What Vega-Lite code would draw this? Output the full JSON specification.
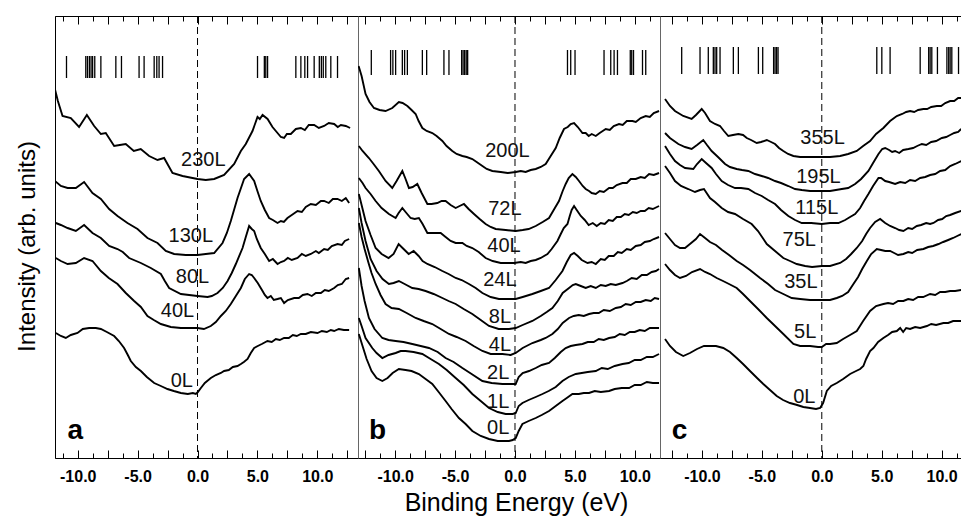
{
"$schema": "https://vega.github.io/schema/vega-lite/v6.json",
"background": "white",
"padding": {"left": 14, "top": 15, "right": 0, "bottom": 0},
"bounds": "flush",
"spacing": 0,
"config": {
 "view": {"stroke": "#666", "strokeWidth": 1},
 "axis": {"domainColor": "black", "tickColor": "black", "grid": false, "tickWidth": 1, "domainWidth": 1,
  "labelFont": "Liberation Sans Narrow, Arial Narrow, Liberation Sans, sans-serif", "labelFontSize": 16, "labelFontWeight": "bold", "labelColor": "black",
  "labelPadding": 18, "labelFlush": false, "labelOverlap": false,
  "titleFont": "Liberation Sans", "titleFontWeight": "normal", "titleColor": "black"}
},
"datasets": {
 "letters": [
  {"p": "a", "t": "a", "x": -10.85, "y": 19},
  {"p": "b", "t": "b", "x": -12.19, "y": 19},
  {"p": "c", "t": "c", "x": -12.52, "y": 19}
 ],
 "labels": [
  {"p": "a", "t": "230L", "x": 0.48, "y": 292},
  {"p": "a", "t": "130L", "x": -0.56, "y": 216},
  {"p": "a", "t": "80L", "x": -0.42, "y": 175},
  {"p": "a", "t": "40L", "x": -1.67, "y": 141},
  {"p": "a", "t": "0L", "x": -1.31, "y": 71},
  {"p": "b", "t": "200L", "x": -0.63, "y": 301},
  {"p": "b", "t": "72L", "x": -0.84, "y": 243},
  {"p": "b", "t": "40L", "x": -0.92, "y": 206},
  {"p": "b", "t": "24L", "x": -1.26, "y": 172},
  {"p": "b", "t": "8L", "x": -1.26, "y": 135},
  {"p": "b", "t": "4L", "x": -1.26, "y": 107},
  {"p": "b", "t": "2L", "x": -1.4, "y": 79},
  {"p": "b", "t": "1L", "x": -1.4, "y": 50},
  {"p": "b", "t": "0L", "x": -1.4, "y": 24},
  {"p": "c", "t": "355L", "x": 0.07, "y": 314},
  {"p": "c", "t": "195L", "x": -0.28, "y": 275},
  {"p": "c", "t": "115L", "x": -0.42, "y": 244},
  {"p": "c", "t": "75L", "x": -1.88, "y": 212},
  {"p": "c", "t": "35L", "x": -1.74, "y": 170},
  {"p": "c", "t": "5L", "x": -1.39, "y": 120},
  {"p": "c", "t": "0L", "x": -1.46, "y": 55}
 ],
 "bars": [
  {"p":"a","x":-10.94,"y":402,"y2":380},{"p":"a","x":-9.33,"y":402,"y2":380},{"p":"a","x":-9.19,"y":402,"y2":380},{"p":"a","x":-9.03,"y":402,"y2":380},{"p":"a","x":-8.89,"y":402,"y2":380},{"p":"a","x":-8.76,"y":402,"y2":380},{"p":"a","x":-8.58,"y":402,"y2":380},{"p":"a","x":-8.07,"y":402,"y2":380},{"p":"a","x":-6.82,"y":402,"y2":380},{"p":"a","x":-6.35,"y":402,"y2":380},{"p":"a","x":-4.88,"y":402,"y2":380},{"p":"a","x":-4.46,"y":402,"y2":380},{"p":"a","x":-3.62,"y":402,"y2":380},{"p":"a","x":-3.4,"y":402,"y2":380},{"p":"a","x":-3.21,"y":402,"y2":380},{"p":"a","x":-2.92,"y":402,"y2":380},
  {"p":"a","x":5.01,"y":402,"y2":380},{"p":"a","x":5.58,"y":402,"y2":380},{"p":"a","x":5.7,"y":402,"y2":380},{"p":"a","x":5.85,"y":402,"y2":380},{"p":"a","x":8.21,"y":402,"y2":380},{"p":"a","x":8.63,"y":402,"y2":380},{"p":"a","x":8.96,"y":402,"y2":380},{"p":"a","x":9.19,"y":402,"y2":380},{"p":"a","x":9.74,"y":402,"y2":380},{"p":"a","x":10.17,"y":402,"y2":380},{"p":"a","x":10.34,"y":402,"y2":380},{"p":"a","x":10.5,"y":402,"y2":380},{"p":"a","x":10.71,"y":402,"y2":380},{"p":"a","x":11.13,"y":402,"y2":380},{"p":"a","x":11.69,"y":402,"y2":380},
  {"p":"b","x":-11.99,"y":408,"y2":383},{"p":"b","x":-10.38,"y":408,"y2":383},{"p":"b","x":-10.19,"y":408,"y2":383},{"p":"b","x":-9.96,"y":408,"y2":383},{"p":"b","x":-9.4,"y":408,"y2":383},{"p":"b","x":-9.21,"y":408,"y2":383},{"p":"b","x":-8.98,"y":408,"y2":383},{"p":"b","x":-7.73,"y":408,"y2":383},{"p":"b","x":-7.37,"y":408,"y2":383},{"p":"b","x":-5.93,"y":408,"y2":383},{"p":"b","x":-5.51,"y":408,"y2":383},{"p":"b","x":-4.45,"y":408,"y2":383},{"p":"b","x":-4.33,"y":408,"y2":383},{"p":"b","x":-4.2,"y":408,"y2":383},{"p":"b","x":-4.07,"y":408,"y2":383},{"p":"b","x":-3.95,"y":408,"y2":383},
  {"p":"b","x":4.38,"y":408,"y2":383},{"p":"b","x":4.65,"y":408,"y2":383},{"p":"b","x":5.01,"y":408,"y2":383},{"p":"b","x":7.43,"y":408,"y2":383},{"p":"b","x":7.99,"y":408,"y2":383},{"p":"b","x":8.27,"y":408,"y2":383},{"p":"b","x":8.55,"y":408,"y2":383},{"p":"b","x":9.62,"y":408,"y2":383},{"p":"b","x":9.74,"y":408,"y2":383},{"p":"b","x":9.89,"y":408,"y2":383},{"p":"b","x":10.64,"y":408,"y2":383},{"p":"b","x":10.91,"y":408,"y2":383},
  {"p":"c","x":-11.69,"y":411,"y2":384},{"p":"c","x":-10.16,"y":411,"y2":384},{"p":"c","x":-9.47,"y":411,"y2":384},{"p":"c","x":-9.05,"y":411,"y2":384},{"p":"c","x":-8.91,"y":411,"y2":384},{"p":"c","x":-8.77,"y":411,"y2":384},{"p":"c","x":-8.49,"y":411,"y2":384},{"p":"c","x":-7.38,"y":411,"y2":384},{"p":"c","x":-6.96,"y":411,"y2":384},{"p":"c","x":-5.29,"y":411,"y2":384},{"p":"c","x":-4.93,"y":411,"y2":384},{"p":"c","x":-4.02,"y":411,"y2":384},{"p":"c","x":-3.9,"y":411,"y2":384},{"p":"c","x":-3.77,"y":411,"y2":384},{"p":"c","x":-3.65,"y":411,"y2":384},
  {"p":"c","x":4.59,"y":411,"y2":384},{"p":"c","x":5.01,"y":411,"y2":384},{"p":"c","x":5.7,"y":411,"y2":384},{"p":"c","x":8.21,"y":411,"y2":384},{"p":"c","x":8.92,"y":411,"y2":384},{"p":"c","x":9.04,"y":411,"y2":384},{"p":"c","x":9.18,"y":411,"y2":384},{"p":"c","x":9.65,"y":411,"y2":384},{"p":"c","x":10.44,"y":411,"y2":384},{"p":"c","x":10.59,"y":411,"y2":384},{"p":"c","x":10.71,"y":411,"y2":384},{"p":"c","x":10.85,"y":411,"y2":384},{"p":"c","x":11.41,"y":411,"y2":384}
 ],
 "curves": [
{"p":"a","c":"230L","x":-11.91,"y":369},{"p":"a","c":"230L","x":-11.66,"y":357},{"p":"a","c":"230L","x":-11.27,"y":342},{"p":"a","c":"230L","x":-10.58,"y":340},{"p":"a","c":"230L","x":-9.89,"y":331},{"p":"a","c":"230L","x":-9.24,"y":343},{"p":"a","c":"230L","x":-8.63,"y":332},{"p":"a","c":"230L","x":-8.07,"y":324},{"p":"a","c":"230L","x":-7.66,"y":325},{"p":"a","c":"230L","x":-6.96,"y":312},{"p":"a","c":"230L","x":-6.49,"y":313},{"p":"a","c":"230L","x":-5.99,"y":314},{"p":"a","c":"230L","x":-5.32,"y":307},{"p":"a","c":"230L","x":-4.74,"y":309},{"p":"a","c":"230L","x":-4.04,"y":302},{"p":"a","c":"230L","x":-3.34,"y":298},{"p":"a","c":"230L","x":-2.79,"y":300},{"p":"a","c":"230L","x":-2.09,"y":285},{"p":"a","c":"230L","x":-1.25,"y":282},{"p":"a","c":"230L","x":0,"y":279},{"p":"a","c":"230L","x":0.69,"y":278},{"p":"a","c":"230L","x":1.39,"y":279},{"p":"a","c":"230L","x":2.22,"y":283},{"p":"a","c":"230L","x":3.06,"y":294},{"p":"a","c":"230L","x":3.62,"y":307},{"p":"a","c":"230L","x":4.03,"y":314},{"p":"a","c":"230L","x":4.59,"y":327},{"p":"a","c":"230L","x":5.01,"y":341},{"p":"a","c":"230L","x":5.2,"y":339},{"p":"a","c":"230L","x":5.43,"y":343},{"p":"a","c":"230L","x":5.85,"y":339},{"p":"a","c":"230L","x":6.26,"y":331},{"p":"a","c":"230L","x":6.68,"y":325},{"p":"a","c":"230L","x":6.96,"y":321},{"p":"a","c":"230L","x":7.23,"y":320},{"p":"a","c":"230L","x":7.46,"y":324},{"p":"a","c":"230L","x":7.79,"y":324},{"p":"a","c":"230L","x":8.21,"y":329},{"p":"a","c":"230L","x":8.63,"y":330},{"p":"a","c":"230L","x":8.96,"y":328},{"p":"a","c":"230L","x":9.29,"y":333},{"p":"a","c":"230L","x":9.74,"y":333},{"p":"a","c":"230L","x":10.13,"y":330},{"p":"a","c":"230L","x":10.57,"y":332},{"p":"a","c":"230L","x":10.96,"y":335},{"p":"a","c":"230L","x":11.41,"y":334},{"p":"a","c":"230L","x":11.71,"y":331},{"p":"a","c":"230L","x":11.97,"y":333},{"p":"a","c":"230L","x":12.38,"y":332},{"p":"a","c":"230L","x":12.74,"y":330},
{"p":"a","c":"130L","x":-11.91,"y":277},{"p":"a","c":"130L","x":-11.41,"y":272},{"p":"a","c":"130L","x":-10.85,"y":270},{"p":"a","c":"130L","x":-10.16,"y":270},{"p":"a","c":"130L","x":-9.47,"y":276},{"p":"a","c":"130L","x":-8.77,"y":265},{"p":"a","c":"130L","x":-8.07,"y":259},{"p":"a","c":"130L","x":-7.38,"y":249},{"p":"a","c":"130L","x":-6.68,"y":242},{"p":"a","c":"130L","x":-5.85,"y":235},{"p":"a","c":"130L","x":-5.01,"y":229},{"p":"a","c":"130L","x":-4.18,"y":220},{"p":"a","c":"130L","x":-3.34,"y":215},{"p":"a","c":"130L","x":-2.65,"y":207},{"p":"a","c":"130L","x":-1.95,"y":204},{"p":"a","c":"130L","x":-0.98,"y":203},{"p":"a","c":"130L","x":0,"y":203},{"p":"a","c":"130L","x":0.69,"y":204},{"p":"a","c":"130L","x":1.39,"y":205},{"p":"a","c":"130L","x":2.09,"y":215},{"p":"a","c":"130L","x":2.45,"y":225},{"p":"a","c":"130L","x":2.78,"y":237},{"p":"a","c":"130L","x":3.34,"y":260},{"p":"a","c":"130L","x":3.89,"y":279},{"p":"a","c":"130L","x":4.31,"y":284},{"p":"a","c":"130L","x":4.73,"y":277},{"p":"a","c":"130L","x":5.0,"y":267},{"p":"a","c":"130L","x":5.28,"y":257},{"p":"a","c":"130L","x":5.62,"y":248},{"p":"a","c":"130L","x":5.98,"y":240},{"p":"a","c":"130L","x":6.29,"y":238},{"p":"a","c":"130L","x":6.68,"y":235},{"p":"a","c":"130L","x":6.96,"y":237},{"p":"a","c":"130L","x":7.21,"y":236},{"p":"a","c":"130L","x":7.51,"y":240},{"p":"a","c":"130L","x":7.87,"y":243},{"p":"a","c":"130L","x":8.35,"y":247},{"p":"a","c":"130L","x":8.71,"y":246},{"p":"a","c":"130L","x":9.04,"y":251},{"p":"a","c":"130L","x":9.46,"y":254},{"p":"a","c":"130L","x":9.88,"y":253},{"p":"a","c":"130L","x":10.3,"y":257},{"p":"a","c":"130L","x":10.57,"y":257},{"p":"a","c":"130L","x":10.96,"y":255},{"p":"a","c":"130L","x":11.3,"y":259},{"p":"a","c":"130L","x":11.69,"y":259},{"p":"a","c":"130L","x":12.05,"y":257},{"p":"a","c":"130L","x":12.38,"y":260},{"p":"a","c":"130L","x":12.66,"y":255},
{"p":"a","c":"80L","x":-11.83,"y":235},{"p":"a","c":"80L","x":-11.41,"y":233},{"p":"a","c":"80L","x":-10.85,"y":230},{"p":"a","c":"80L","x":-10.16,"y":227},{"p":"a","c":"80L","x":-9.47,"y":233},{"p":"a","c":"80L","x":-8.77,"y":225},{"p":"a","c":"80L","x":-8.07,"y":220},{"p":"a","c":"80L","x":-7.38,"y":212},{"p":"a","c":"80L","x":-6.68,"y":209},{"p":"a","c":"80L","x":-6.24,"y":206},{"p":"a","c":"80L","x":-5.71,"y":200},{"p":"a","c":"80L","x":-4.73,"y":195},{"p":"a","c":"80L","x":-3.9,"y":190},{"p":"a","c":"80L","x":-3.06,"y":184},{"p":"a","c":"80L","x":-2.73,"y":177},{"p":"a","c":"80L","x":-2.37,"y":170},{"p":"a","c":"80L","x":-1.39,"y":164},{"p":"a","c":"80L","x":0,"y":162},{"p":"a","c":"80L","x":0.84,"y":161},{"p":"a","c":"80L","x":1.19,"y":162},{"p":"a","c":"80L","x":1.67,"y":165},{"p":"a","c":"80L","x":2.11,"y":170},{"p":"a","c":"80L","x":2.51,"y":177},{"p":"a","c":"80L","x":2.86,"y":185},{"p":"a","c":"80L","x":3.2,"y":194},{"p":"a","c":"80L","x":3.76,"y":210},{"p":"a","c":"80L","x":4.03,"y":221},{"p":"a","c":"80L","x":4.31,"y":232},{"p":"a","c":"80L","x":4.53,"y":229},{"p":"a","c":"80L","x":4.73,"y":227},{"p":"a","c":"80L","x":4.95,"y":219},{"p":"a","c":"80L","x":5.28,"y":210},{"p":"a","c":"80L","x":5.62,"y":204},{"p":"a","c":"80L","x":5.98,"y":197},{"p":"a","c":"80L","x":6.29,"y":199},{"p":"a","c":"80L","x":6.68,"y":194},{"p":"a","c":"80L","x":6.96,"y":196},{"p":"a","c":"80L","x":7.23,"y":197},{"p":"a","c":"80L","x":7.54,"y":200},{"p":"a","c":"80L","x":7.87,"y":198},{"p":"a","c":"80L","x":8.35,"y":200},{"p":"a","c":"80L","x":8.71,"y":204},{"p":"a","c":"80L","x":9.04,"y":202},{"p":"a","c":"80L","x":9.46,"y":204},{"p":"a","c":"80L","x":9.88,"y":207},{"p":"a","c":"80L","x":10.13,"y":205},{"p":"a","c":"80L","x":10.57,"y":209},{"p":"a","c":"80L","x":10.88,"y":208},{"p":"a","c":"80L","x":11.21,"y":212},{"p":"a","c":"80L","x":11.69,"y":214},{"p":"a","c":"80L","x":12.05,"y":213},{"p":"a","c":"80L","x":12.3,"y":217},{"p":"a","c":"80L","x":12.66,"y":219},
{"p":"a","c":"40L","x":-11.83,"y":200},{"p":"a","c":"40L","x":-11.41,"y":197},{"p":"a","c":"40L","x":-10.85,"y":194},{"p":"a","c":"40L","x":-10.16,"y":195},{"p":"a","c":"40L","x":-9.47,"y":200},{"p":"a","c":"40L","x":-8.77,"y":197},{"p":"a","c":"40L","x":-8.07,"y":187},{"p":"a","c":"40L","x":-7.41,"y":180},{"p":"a","c":"40L","x":-6.68,"y":174},{"p":"a","c":"40L","x":-5.99,"y":165},{"p":"a","c":"40L","x":-5.29,"y":157},{"p":"a","c":"40L","x":-4.73,"y":151},{"p":"a","c":"40L","x":-4.18,"y":142},{"p":"a","c":"40L","x":-3.65,"y":138},{"p":"a","c":"40L","x":-3.06,"y":134},{"p":"a","c":"40L","x":-2.23,"y":131},{"p":"a","c":"40L","x":-1.39,"y":130},{"p":"a","c":"40L","x":0,"y":130},{"p":"a","c":"40L","x":0.53,"y":129},{"p":"a","c":"40L","x":1.11,"y":132},{"p":"a","c":"40L","x":1.53,"y":136},{"p":"a","c":"40L","x":1.95,"y":142},{"p":"a","c":"40L","x":2.36,"y":147},{"p":"a","c":"40L","x":2.78,"y":154},{"p":"a","c":"40L","x":3.2,"y":162},{"p":"a","c":"40L","x":3.62,"y":170},{"p":"a","c":"40L","x":3.95,"y":179},{"p":"a","c":"40L","x":4.31,"y":184},{"p":"a","c":"40L","x":4.53,"y":183},{"p":"a","c":"40L","x":4.73,"y":180},{"p":"a","c":"40L","x":5.03,"y":175},{"p":"a","c":"40L","x":5.43,"y":167},{"p":"a","c":"40L","x":5.62,"y":163},{"p":"a","c":"40L","x":5.84,"y":160},{"p":"a","c":"40L","x":6.12,"y":162},{"p":"a","c":"40L","x":6.37,"y":158},{"p":"a","c":"40L","x":6.68,"y":159},{"p":"a","c":"40L","x":6.96,"y":160},{"p":"a","c":"40L","x":7.23,"y":155},{"p":"a","c":"40L","x":7.54,"y":158},{"p":"a","c":"40L","x":8.07,"y":160},{"p":"a","c":"40L","x":8.46,"y":160},{"p":"a","c":"40L","x":8.79,"y":163},{"p":"a","c":"40L","x":9.18,"y":164},{"p":"a","c":"40L","x":9.54,"y":162},{"p":"a","c":"40L","x":9.88,"y":165},{"p":"a","c":"40L","x":10.3,"y":165},{"p":"a","c":"40L","x":10.63,"y":168},{"p":"a","c":"40L","x":10.96,"y":167},{"p":"a","c":"40L","x":11.41,"y":170},{"p":"a","c":"40L","x":11.71,"y":173},{"p":"a","c":"40L","x":12.05,"y":174},{"p":"a","c":"40L","x":12.38,"y":179},{"p":"a","c":"40L","x":12.66,"y":180},
{"p":"a","c":"0L","x":-11.83,"y":125},{"p":"a","c":"0L","x":-11.41,"y":122},{"p":"a","c":"0L","x":-11.0,"y":120},{"p":"a","c":"0L","x":-10.58,"y":123},{"p":"a","c":"0L","x":-10.02,"y":125},{"p":"a","c":"0L","x":-9.58,"y":129},{"p":"a","c":"0L","x":-9.05,"y":130},{"p":"a","c":"0L","x":-8.49,"y":130},{"p":"a","c":"0L","x":-8.07,"y":129},{"p":"a","c":"0L","x":-7.57,"y":126},{"p":"a","c":"0L","x":-6.96,"y":122},{"p":"a","c":"0L","x":-6.57,"y":117},{"p":"a","c":"0L","x":-6.13,"y":110},{"p":"a","c":"0L","x":-5.82,"y":103},{"p":"a","c":"0L","x":-5.57,"y":97},{"p":"a","c":"0L","x":-5.15,"y":91},{"p":"a","c":"0L","x":-4.73,"y":87},{"p":"a","c":"0L","x":-4.23,"y":81},{"p":"a","c":"0L","x":-3.62,"y":75},{"p":"a","c":"0L","x":-3.06,"y":72},{"p":"a","c":"0L","x":-2.51,"y":69},{"p":"a","c":"0L","x":-1.98,"y":67},{"p":"a","c":"0L","x":-1.39,"y":65},{"p":"a","c":"0L","x":-0.81,"y":64},{"p":"a","c":"0L","x":-0.39,"y":65},{"p":"a","c":"0L","x":-0.14,"y":64},{"p":"a","c":"0L","x":0.03,"y":66},{"p":"a","c":"0L","x":0.28,"y":70},{"p":"a","c":"0L","x":0.61,"y":75},{"p":"a","c":"0L","x":1.11,"y":80},{"p":"a","c":"0L","x":1.53,"y":83},{"p":"a","c":"0L","x":1.95,"y":85},{"p":"a","c":"0L","x":2.22,"y":87},{"p":"a","c":"0L","x":2.61,"y":88},{"p":"a","c":"0L","x":2.95,"y":91},{"p":"a","c":"0L","x":3.34,"y":92},{"p":"a","c":"0L","x":3.62,"y":94},{"p":"a","c":"0L","x":3.87,"y":96},{"p":"a","c":"0L","x":4.18,"y":99},{"p":"a","c":"0L","x":4.45,"y":105},{"p":"a","c":"0L","x":4.73,"y":110},{"p":"a","c":"0L","x":5.03,"y":112},{"p":"a","c":"0L","x":5.37,"y":114},{"p":"a","c":"0L","x":5.84,"y":117},{"p":"a","c":"0L","x":6.2,"y":116},{"p":"a","c":"0L","x":6.54,"y":119},{"p":"a","c":"0L","x":6.87,"y":118},{"p":"a","c":"0L","x":7.23,"y":120},{"p":"a","c":"0L","x":7.62,"y":120},{"p":"a","c":"0L","x":7.96,"y":123},{"p":"a","c":"0L","x":8.29,"y":122},{"p":"a","c":"0L","x":8.63,"y":124},{"p":"a","c":"0L","x":9.04,"y":124},{"p":"a","c":"0L","x":9.46,"y":126},{"p":"a","c":"0L","x":10.02,"y":125},{"p":"a","c":"0L","x":10.38,"y":127},{"p":"a","c":"0L","x":10.8,"y":126},{"p":"a","c":"0L","x":11.13,"y":128},{"p":"a","c":"0L","x":11.41,"y":127},{"p":"a","c":"0L","x":11.8,"y":129},{"p":"a","c":"0L","x":12.22,"y":128},{"p":"a","c":"0L","x":12.66,"y":128},
{"p":"b","c":"200L","x":-13.05,"y":392},{"p":"b","c":"200L","x":-12.8,"y":382},{"p":"b","c":"200L","x":-12.47,"y":364},{"p":"b","c":"200L","x":-12.14,"y":356},{"p":"b","c":"200L","x":-11.77,"y":350},{"p":"b","c":"200L","x":-11.3,"y":348},{"p":"b","c":"200L","x":-10.8,"y":347},{"p":"b","c":"200L","x":-10.24,"y":350},{"p":"b","c":"200L","x":-9.69,"y":356},{"p":"b","c":"200L","x":-9.38,"y":355},{"p":"b","c":"200L","x":-8.98,"y":352},{"p":"b","c":"200L","x":-8.63,"y":348},{"p":"b","c":"200L","x":-8.29,"y":344},{"p":"b","c":"200L","x":-8.04,"y":337},{"p":"b","c":"200L","x":-7.73,"y":330},{"p":"b","c":"200L","x":-7.37,"y":327},{"p":"b","c":"200L","x":-6.9,"y":325},{"p":"b","c":"200L","x":-6.54,"y":322},{"p":"b","c":"200L","x":-6.06,"y":317},{"p":"b","c":"200L","x":-5.71,"y":312},{"p":"b","c":"200L","x":-5.23,"y":307},{"p":"b","c":"200L","x":-4.87,"y":304},{"p":"b","c":"200L","x":-4.39,"y":302},{"p":"b","c":"200L","x":-4.03,"y":301},{"p":"b","c":"200L","x":-3.56,"y":299},{"p":"b","c":"200L","x":-3.2,"y":296},{"p":"b","c":"200L","x":-2.72,"y":292},{"p":"b","c":"200L","x":-2.36,"y":289},{"p":"b","c":"200L","x":-1.89,"y":287},{"p":"b","c":"200L","x":-1.19,"y":286},{"p":"b","c":"200L","x":-0.61,"y":285},{"p":"b","c":"200L","x":0.06,"y":286},{"p":"b","c":"200L","x":0.48,"y":287},{"p":"b","c":"200L","x":0.89,"y":286},{"p":"b","c":"200L","x":1.31,"y":288},{"p":"b","c":"200L","x":1.73,"y":289},{"p":"b","c":"200L","x":2.15,"y":291},{"p":"b","c":"200L","x":2.56,"y":294},{"p":"b","c":"200L","x":2.98,"y":302},{"p":"b","c":"200L","x":3.4,"y":310},{"p":"b","c":"200L","x":3.73,"y":320},{"p":"b","c":"200L","x":4.09,"y":329},{"p":"b","c":"200L","x":4.4,"y":331},{"p":"b","c":"200L","x":4.65,"y":334},{"p":"b","c":"200L","x":4.93,"y":335},{"p":"b","c":"200L","x":5.24,"y":331},{"p":"b","c":"200L","x":5.63,"y":325},{"p":"b","c":"200L","x":5.9,"y":325},{"p":"b","c":"200L","x":6.15,"y":322},{"p":"b","c":"200L","x":6.4,"y":324},{"p":"b","c":"200L","x":6.74,"y":322},{"p":"b","c":"200L","x":7.07,"y":325},{"p":"b","c":"200L","x":7.32,"y":327},{"p":"b","c":"200L","x":7.57,"y":329},{"p":"b","c":"200L","x":7.91,"y":328},{"p":"b","c":"200L","x":8.24,"y":332},{"p":"b","c":"200L","x":8.68,"y":334},{"p":"b","c":"200L","x":8.99,"y":333},{"p":"b","c":"200L","x":9.33,"y":337},{"p":"b","c":"200L","x":9.8,"y":337},{"p":"b","c":"200L","x":10.08,"y":336},{"p":"b","c":"200L","x":10.49,"y":340},{"p":"b","c":"200L","x":10.91,"y":342},{"p":"b","c":"200L","x":11.25,"y":341},{"p":"b","c":"200L","x":11.58,"y":345},{"p":"b","c":"200L","x":12.02,"y":347},
{"p":"b","c":"72L","x":-13.03,"y":312},{"p":"b","c":"72L","x":-12.72,"y":307},{"p":"b","c":"72L","x":-12.19,"y":300},{"p":"b","c":"72L","x":-11.8,"y":294},{"p":"b","c":"72L","x":-11.36,"y":287},{"p":"b","c":"72L","x":-10.8,"y":277},{"p":"b","c":"72L","x":-10.24,"y":270},{"p":"b","c":"72L","x":-9.88,"y":277},{"p":"b","c":"72L","x":-9.4,"y":287},{"p":"b","c":"72L","x":-9.13,"y":279},{"p":"b","c":"72L","x":-8.85,"y":270},{"p":"b","c":"72L","x":-8.54,"y":271},{"p":"b","c":"72L","x":-8.15,"y":274},{"p":"b","c":"72L","x":-7.79,"y":265},{"p":"b","c":"72L","x":-7.31,"y":254},{"p":"b","c":"72L","x":-6.96,"y":254},{"p":"b","c":"72L","x":-6.48,"y":255},{"p":"b","c":"72L","x":-6.12,"y":257},{"p":"b","c":"72L","x":-5.79,"y":257},{"p":"b","c":"72L","x":-5.37,"y":253},{"p":"b","c":"72L","x":-4.95,"y":250},{"p":"b","c":"72L","x":-4.62,"y":252},{"p":"b","c":"72L","x":-4.26,"y":254},{"p":"b","c":"72L","x":-3.87,"y":249},{"p":"b","c":"72L","x":-3.42,"y":244},{"p":"b","c":"72L","x":-2.95,"y":239},{"p":"b","c":"72L","x":-2.45,"y":234},{"p":"b","c":"72L","x":-2.03,"y":231},{"p":"b","c":"72L","x":-1.61,"y":229},{"p":"b","c":"72L","x":-0.78,"y":228},{"p":"b","c":"72L","x":0.06,"y":227},{"p":"b","c":"72L","x":0.64,"y":228},{"p":"b","c":"72L","x":1.14,"y":229},{"p":"b","c":"72L","x":1.73,"y":232},{"p":"b","c":"72L","x":2.31,"y":236},{"p":"b","c":"72L","x":2.84,"y":240},{"p":"b","c":"72L","x":3.23,"y":248},{"p":"b","c":"72L","x":3.67,"y":257},{"p":"b","c":"72L","x":3.98,"y":267},{"p":"b","c":"72L","x":4.23,"y":274},{"p":"b","c":"72L","x":4.48,"y":280},{"p":"b","c":"72L","x":4.79,"y":284},{"p":"b","c":"72L","x":5.07,"y":281},{"p":"b","c":"72L","x":5.34,"y":277},{"p":"b","c":"72L","x":5.65,"y":272},{"p":"b","c":"72L","x":5.9,"y":269},{"p":"b","c":"72L","x":6.18,"y":267},{"p":"b","c":"72L","x":6.4,"y":265},{"p":"b","c":"72L","x":6.74,"y":264},{"p":"b","c":"72L","x":7.07,"y":267},{"p":"b","c":"72L","x":7.41,"y":266},{"p":"b","c":"72L","x":7.85,"y":270},{"p":"b","c":"72L","x":8.16,"y":270},{"p":"b","c":"72L","x":8.49,"y":273},{"p":"b","c":"72L","x":8.97,"y":275},{"p":"b","c":"72L","x":9.33,"y":275},{"p":"b","c":"72L","x":9.66,"y":279},{"p":"b","c":"72L","x":10.08,"y":279},{"p":"b","c":"72L","x":10.49,"y":281},{"p":"b","c":"72L","x":10.83,"y":280},{"p":"b","c":"72L","x":11.19,"y":284},{"p":"b","c":"72L","x":11.58,"y":283},{"p":"b","c":"72L","x":12.02,"y":285},
{"p":"b","c":"40L","x":-13.03,"y":280},{"p":"b","c":"40L","x":-12.72,"y":275},{"p":"b","c":"40L","x":-12.47,"y":270},{"p":"b","c":"40L","x":-12.05,"y":264},{"p":"b","c":"40L","x":-11.63,"y":257},{"p":"b","c":"40L","x":-11.13,"y":250},{"p":"b","c":"40L","x":-10.52,"y":244},{"p":"b","c":"40L","x":-9.96,"y":240},{"p":"b","c":"40L","x":-9.71,"y":245},{"p":"b","c":"40L","x":-9.4,"y":250},{"p":"b","c":"40L","x":-9.13,"y":246},{"p":"b","c":"40L","x":-8.71,"y":240},{"p":"b","c":"40L","x":-8.37,"y":239},{"p":"b","c":"40L","x":-8.02,"y":240},{"p":"b","c":"40L","x":-7.71,"y":234},{"p":"b","c":"40L","x":-7.31,"y":225},{"p":"b","c":"40L","x":-6.79,"y":225},{"p":"b","c":"40L","x":-6.2,"y":225},{"p":"b","c":"40L","x":-5.79,"y":221},{"p":"b","c":"40L","x":-5.37,"y":217},{"p":"b","c":"40L","x":-4.95,"y":215},{"p":"b","c":"40L","x":-4.39,"y":215},{"p":"b","c":"40L","x":-4.03,"y":212},{"p":"b","c":"40L","x":-3.56,"y":210},{"p":"b","c":"40L","x":-3.03,"y":206},{"p":"b","c":"40L","x":-2.45,"y":200},{"p":"b","c":"40L","x":-1.86,"y":197},{"p":"b","c":"40L","x":-1.19,"y":195},{"p":"b","c":"40L","x":-0.61,"y":195},{"p":"b","c":"40L","x":-0.08,"y":195},{"p":"b","c":"40L","x":0.48,"y":196},{"p":"b","c":"40L","x":0.89,"y":195},{"p":"b","c":"40L","x":1.31,"y":197},{"p":"b","c":"40L","x":1.73,"y":198},{"p":"b","c":"40L","x":2.15,"y":200},{"p":"b","c":"40L","x":2.71,"y":204},{"p":"b","c":"40L","x":3.06,"y":209},{"p":"b","c":"40L","x":3.54,"y":217},{"p":"b","c":"40L","x":3.82,"y":224},{"p":"b","c":"40L","x":4.07,"y":230},{"p":"b","c":"40L","x":4.38,"y":234},{"p":"b","c":"40L","x":4.57,"y":242},{"p":"b","c":"40L","x":4.73,"y":248},{"p":"b","c":"40L","x":4.93,"y":252},{"p":"b","c":"40L","x":5.15,"y":248},{"p":"b","c":"40L","x":5.49,"y":242},{"p":"b","c":"40L","x":5.82,"y":238},{"p":"b","c":"40L","x":6.15,"y":233},{"p":"b","c":"40L","x":6.49,"y":235},{"p":"b","c":"40L","x":6.82,"y":232},{"p":"b","c":"40L","x":7.16,"y":235},{"p":"b","c":"40L","x":7.49,"y":234},{"p":"b","c":"40L","x":7.82,"y":238},{"p":"b","c":"40L","x":8.16,"y":237},{"p":"b","c":"40L","x":8.49,"y":241},{"p":"b","c":"40L","x":8.83,"y":241},{"p":"b","c":"40L","x":9.16,"y":244},{"p":"b","c":"40L","x":9.49,"y":243},{"p":"b","c":"40L","x":9.83,"y":246},{"p":"b","c":"40L","x":10.16,"y":245},{"p":"b","c":"40L","x":10.49,"y":247},{"p":"b","c":"40L","x":10.83,"y":247},{"p":"b","c":"40L","x":11.16,"y":250},{"p":"b","c":"40L","x":11.5,"y":249},{"p":"b","c":"40L","x":12.02,"y":252},
{"p":"b","c":"24L","x":-13.03,"y":264},{"p":"b","c":"24L","x":-12.8,"y":253},{"p":"b","c":"24L","x":-12.47,"y":237},{"p":"b","c":"24L","x":-12.05,"y":223},{"p":"b","c":"24L","x":-11.63,"y":210},{"p":"b","c":"24L","x":-11.13,"y":204},{"p":"b","c":"24L","x":-10.55,"y":200},{"p":"b","c":"24L","x":-10.13,"y":204},{"p":"b","c":"24L","x":-9.71,"y":214},{"p":"b","c":"24L","x":-9.38,"y":210},{"p":"b","c":"24L","x":-8.87,"y":204},{"p":"b","c":"24L","x":-8.46,"y":207},{"p":"b","c":"24L","x":-8.04,"y":202},{"p":"b","c":"24L","x":-7.71,"y":197},{"p":"b","c":"24L","x":-7.31,"y":194},{"p":"b","c":"24L","x":-6.7,"y":191},{"p":"b","c":"24L","x":-6.06,"y":187},{"p":"b","c":"24L","x":-5.54,"y":184},{"p":"b","c":"24L","x":-4.95,"y":180},{"p":"b","c":"24L","x":-4.45,"y":178},{"p":"b","c":"24L","x":-3.84,"y":174},{"p":"b","c":"24L","x":-3.28,"y":170},{"p":"b","c":"24L","x":-2.72,"y":165},{"p":"b","c":"24L","x":-2.03,"y":161},{"p":"b","c":"24L","x":-1.34,"y":159},{"p":"b","c":"24L","x":-0.61,"y":159},{"p":"b","c":"24L","x":0.06,"y":159},{"p":"b","c":"24L","x":0.64,"y":161},{"p":"b","c":"24L","x":1.45,"y":164},{"p":"b","c":"24L","x":2.15,"y":167},{"p":"b","c":"24L","x":2.84,"y":170},{"p":"b","c":"24L","x":3.4,"y":178},{"p":"b","c":"24L","x":3.96,"y":187},{"p":"b","c":"24L","x":4.32,"y":196},{"p":"b","c":"24L","x":4.65,"y":203},{"p":"b","c":"24L","x":4.93,"y":205},{"p":"b","c":"24L","x":5.24,"y":202},{"p":"b","c":"24L","x":5.57,"y":198},{"p":"b","c":"24L","x":6.05,"y":195},{"p":"b","c":"24L","x":6.4,"y":196},{"p":"b","c":"24L","x":6.74,"y":194},{"p":"b","c":"24L","x":7.16,"y":199},{"p":"b","c":"24L","x":7.49,"y":198},{"p":"b","c":"24L","x":7.82,"y":202},{"p":"b","c":"24L","x":8.24,"y":202},{"p":"b","c":"24L","x":8.58,"y":206},{"p":"b","c":"24L","x":8.91,"y":205},{"p":"b","c":"24L","x":9.33,"y":209},{"p":"b","c":"24L","x":9.66,"y":208},{"p":"b","c":"24L","x":10.08,"y":212},{"p":"b","c":"24L","x":10.49,"y":213},{"p":"b","c":"24L","x":10.83,"y":216},{"p":"b","c":"24L","x":11.25,"y":217},{"p":"b","c":"24L","x":11.58,"y":219},{"p":"b","c":"24L","x":12.02,"y":221},
{"p":"b","c":"8L","x":-13.03,"y":250},{"p":"b","c":"8L","x":-12.8,"y":235},{"p":"b","c":"8L","x":-12.47,"y":217},{"p":"b","c":"8L","x":-12.05,"y":199},{"p":"b","c":"8L","x":-11.55,"y":187},{"p":"b","c":"8L","x":-11.05,"y":179},{"p":"b","c":"8L","x":-10.52,"y":174},{"p":"b","c":"8L","x":-10.13,"y":175},{"p":"b","c":"8L","x":-9.69,"y":177},{"p":"b","c":"8L","x":-9.21,"y":174},{"p":"b","c":"8L","x":-8.57,"y":170},{"p":"b","c":"8L","x":-8.04,"y":169},{"p":"b","c":"8L","x":-7.46,"y":167},{"p":"b","c":"8L","x":-6.79,"y":164},{"p":"b","c":"8L","x":-6.06,"y":160},{"p":"b","c":"8L","x":-5.54,"y":157},{"p":"b","c":"8L","x":-4.95,"y":154},{"p":"b","c":"8L","x":-4.28,"y":149},{"p":"b","c":"8L","x":-3.56,"y":144},{"p":"b","c":"8L","x":-2.86,"y":138},{"p":"b","c":"8L","x":-2.17,"y":132},{"p":"b","c":"8L","x":-1.36,"y":129},{"p":"b","c":"8L","x":-0.5,"y":129},{"p":"b","c":"8L","x":0.06,"y":130},{"p":"b","c":"8L","x":0.64,"y":133},{"p":"b","c":"8L","x":1.45,"y":137},{"p":"b","c":"8L","x":2.15,"y":142},{"p":"b","c":"8L","x":2.65,"y":146},{"p":"b","c":"8L","x":3.12,"y":150},{"p":"b","c":"8L","x":3.57,"y":157},{"p":"b","c":"8L","x":3.98,"y":165},{"p":"b","c":"8L","x":4.51,"y":170},{"p":"b","c":"8L","x":4.82,"y":173},{"p":"b","c":"8L","x":5.07,"y":174},{"p":"b","c":"8L","x":5.49,"y":172},{"p":"b","c":"8L","x":5.9,"y":170},{"p":"b","c":"8L","x":6.32,"y":172},{"p":"b","c":"8L","x":6.74,"y":170},{"p":"b","c":"8L","x":7.16,"y":173},{"p":"b","c":"8L","x":7.57,"y":172},{"p":"b","c":"8L","x":7.99,"y":174},{"p":"b","c":"8L","x":8.41,"y":173},{"p":"b","c":"8L","x":8.97,"y":175},{"p":"b","c":"8L","x":9.33,"y":177},{"p":"b","c":"8L","x":9.74,"y":180},{"p":"b","c":"8L","x":10.16,"y":179},{"p":"b","c":"8L","x":10.58,"y":183},{"p":"b","c":"8L","x":11.0,"y":183},{"p":"b","c":"8L","x":11.41,"y":186},{"p":"b","c":"8L","x":11.75,"y":187},{"p":"b","c":"8L","x":12.02,"y":189},
{"p":"b","c":"4L","x":-13.03,"y":235},{"p":"b","c":"4L","x":-12.8,"y":221},{"p":"b","c":"4L","x":-12.55,"y":209},{"p":"b","c":"4L","x":-12.22,"y":195},{"p":"b","c":"4L","x":-11.97,"y":185},{"p":"b","c":"4L","x":-11.63,"y":174},{"p":"b","c":"4L","x":-11.22,"y":163},{"p":"b","c":"4L","x":-10.8,"y":154},{"p":"b","c":"4L","x":-10.3,"y":150},{"p":"b","c":"4L","x":-9.69,"y":149},{"p":"b","c":"4L","x":-9.04,"y":145},{"p":"b","c":"4L","x":-8.29,"y":140},{"p":"b","c":"4L","x":-7.62,"y":137},{"p":"b","c":"4L","x":-6.9,"y":134},{"p":"b","c":"4L","x":-6.2,"y":129},{"p":"b","c":"4L","x":-5.51,"y":124},{"p":"b","c":"4L","x":-4.87,"y":121},{"p":"b","c":"4L","x":-4.12,"y":117},{"p":"b","c":"4L","x":-3.45,"y":112},{"p":"b","c":"4L","x":-2.72,"y":107},{"p":"b","c":"4L","x":-2.03,"y":104},{"p":"b","c":"4L","x":-1.05,"y":104},{"p":"b","c":"4L","x":-0.36,"y":103},{"p":"b","c":"4L","x":0.06,"y":105},{"p":"b","c":"4L","x":0.64,"y":110},{"p":"b","c":"4L","x":1.45,"y":115},{"p":"b","c":"4L","x":2.15,"y":118},{"p":"b","c":"4L","x":2.56,"y":120},{"p":"b","c":"4L","x":3.12,"y":124},{"p":"b","c":"4L","x":3.57,"y":129},{"p":"b","c":"4L","x":3.98,"y":135},{"p":"b","c":"4L","x":4.51,"y":140},{"p":"b","c":"4L","x":4.9,"y":142},{"p":"b","c":"4L","x":5.32,"y":143},{"p":"b","c":"4L","x":5.74,"y":142},{"p":"b","c":"4L","x":6.18,"y":144},{"p":"b","c":"4L","x":6.57,"y":145},{"p":"b","c":"4L","x":6.99,"y":145},{"p":"b","c":"4L","x":7.41,"y":148},{"p":"b","c":"4L","x":7.91,"y":147},{"p":"b","c":"4L","x":8.41,"y":150},{"p":"b","c":"4L","x":8.83,"y":151},{"p":"b","c":"4L","x":9.24,"y":154},{"p":"b","c":"4L","x":9.66,"y":153},{"p":"b","c":"4L","x":10.08,"y":156},{"p":"b","c":"4L","x":10.49,"y":156},{"p":"b","c":"4L","x":10.91,"y":158},{"p":"b","c":"4L","x":11.33,"y":157},{"p":"b","c":"4L","x":11.66,"y":160},{"p":"b","c":"4L","x":12.02,"y":159},
{"p":"b","c":"2L","x":-13.03,"y":190},{"p":"b","c":"2L","x":-12.8,"y":172},{"p":"b","c":"2L","x":-12.55,"y":157},{"p":"b","c":"2L","x":-12.19,"y":140},{"p":"b","c":"2L","x":-11.72,"y":129},{"p":"b","c":"2L","x":-11.07,"y":120},{"p":"b","c":"2L","x":-10.55,"y":118},{"p":"b","c":"2L","x":-9.96,"y":117},{"p":"b","c":"2L","x":-9.3,"y":116},{"p":"b","c":"2L","x":-8.57,"y":114},{"p":"b","c":"2L","x":-7.87,"y":112},{"p":"b","c":"2L","x":-7.18,"y":110},{"p":"b","c":"2L","x":-6.45,"y":106},{"p":"b","c":"2L","x":-5.79,"y":100},{"p":"b","c":"2L","x":-5.12,"y":96},{"p":"b","c":"2L","x":-4.39,"y":90},{"p":"b","c":"2L","x":-3.62,"y":84},{"p":"b","c":"2L","x":-2.72,"y":77},{"p":"b","c":"2L","x":-1.95,"y":75},{"p":"b","c":"2L","x":-1.05,"y":74},{"p":"b","c":"2L","x":-0.36,"y":74},{"p":"b","c":"2L","x":0.06,"y":74},{"p":"b","c":"2L","x":0.31,"y":81},{"p":"b","c":"2L","x":0.64,"y":85},{"p":"b","c":"2L","x":1.17,"y":87},{"p":"b","c":"2L","x":1.73,"y":90},{"p":"b","c":"2L","x":2.23,"y":93},{"p":"b","c":"2L","x":2.84,"y":95},{"p":"b","c":"2L","x":3.32,"y":100},{"p":"b","c":"2L","x":3.82,"y":106},{"p":"b","c":"2L","x":4.23,"y":110},{"p":"b","c":"2L","x":4.65,"y":112},{"p":"b","c":"2L","x":5.07,"y":113},{"p":"b","c":"2L","x":5.63,"y":114},{"p":"b","c":"2L","x":6.07,"y":116},{"p":"b","c":"2L","x":6.57,"y":116},{"p":"b","c":"2L","x":6.99,"y":119},{"p":"b","c":"2L","x":7.41,"y":118},{"p":"b","c":"2L","x":7.85,"y":120},{"p":"b","c":"2L","x":8.32,"y":121},{"p":"b","c":"2L","x":8.74,"y":124},{"p":"b","c":"2L","x":9.16,"y":123},{"p":"b","c":"2L","x":9.58,"y":126},{"p":"b","c":"2L","x":9.99,"y":126},{"p":"b","c":"2L","x":10.41,"y":128},{"p":"b","c":"2L","x":10.83,"y":127},{"p":"b","c":"2L","x":11.25,"y":130},{"p":"b","c":"2L","x":11.66,"y":130},{"p":"b","c":"2L","x":12.02,"y":130},
{"p":"b","c":"1L","x":-13.03,"y":140},{"p":"b","c":"1L","x":-12.8,"y":132},{"p":"b","c":"1L","x":-12.47,"y":120},{"p":"b","c":"1L","x":-11.91,"y":110},{"p":"b","c":"1L","x":-11.55,"y":105},{"p":"b","c":"1L","x":-11.07,"y":100},{"p":"b","c":"1L","x":-10.55,"y":103},{"p":"b","c":"1L","x":-9.96,"y":105},{"p":"b","c":"1L","x":-9.54,"y":107},{"p":"b","c":"1L","x":-9.13,"y":107},{"p":"b","c":"1L","x":-8.46,"y":106},{"p":"b","c":"1L","x":-7.73,"y":104},{"p":"b","c":"1L","x":-7.04,"y":99},{"p":"b","c":"1L","x":-6.35,"y":94},{"p":"b","c":"1L","x":-5.7,"y":88},{"p":"b","c":"1L","x":-4.95,"y":80},{"p":"b","c":"1L","x":-4.28,"y":73},{"p":"b","c":"1L","x":-3.56,"y":64},{"p":"b","c":"1L","x":-2.86,"y":57},{"p":"b","c":"1L","x":-2.17,"y":50},{"p":"b","c":"1L","x":-1.44,"y":46},{"p":"b","c":"1L","x":-0.78,"y":44},{"p":"b","c":"1L","x":-0.19,"y":44},{"p":"b","c":"1L","x":0.06,"y":45},{"p":"b","c":"1L","x":0.31,"y":52},{"p":"b","c":"1L","x":0.62,"y":55},{"p":"b","c":"1L","x":1.14,"y":58},{"p":"b","c":"1L","x":1.73,"y":61},{"p":"b","c":"1L","x":2.29,"y":64},{"p":"b","c":"1L","x":2.81,"y":67},{"p":"b","c":"1L","x":3.4,"y":71},{"p":"b","c":"1L","x":3.96,"y":77},{"p":"b","c":"1L","x":4.48,"y":81},{"p":"b","c":"1L","x":5.07,"y":84},{"p":"b","c":"1L","x":5.57,"y":85},{"p":"b","c":"1L","x":6.07,"y":86},{"p":"b","c":"1L","x":6.74,"y":87},{"p":"b","c":"1L","x":7.24,"y":90},{"p":"b","c":"1L","x":7.74,"y":89},{"p":"b","c":"1L","x":8.32,"y":92},{"p":"b","c":"1L","x":8.97,"y":94},{"p":"b","c":"1L","x":9.49,"y":95},{"p":"b","c":"1L","x":9.99,"y":98},{"p":"b","c":"1L","x":10.49,"y":98},{"p":"b","c":"1L","x":11.0,"y":101},{"p":"b","c":"1L","x":11.5,"y":101},{"p":"b","c":"1L","x":12.02,"y":104},
{"p":"b","c":"0L","x":-13.03,"y":124},{"p":"b","c":"0L","x":-12.72,"y":112},{"p":"b","c":"0L","x":-12.38,"y":99},{"p":"b","c":"0L","x":-11.97,"y":87},{"p":"b","c":"0L","x":-11.55,"y":80},{"p":"b","c":"0L","x":-11.07,"y":77},{"p":"b","c":"0L","x":-10.63,"y":80},{"p":"b","c":"0L","x":-10.21,"y":85},{"p":"b","c":"0L","x":-9.69,"y":89},{"p":"b","c":"0L","x":-9.13,"y":88},{"p":"b","c":"0L","x":-8.63,"y":87},{"p":"b","c":"0L","x":-8.02,"y":84},{"p":"b","c":"0L","x":-7.46,"y":79},{"p":"b","c":"0L","x":-6.9,"y":74},{"p":"b","c":"0L","x":-6.37,"y":66},{"p":"b","c":"0L","x":-5.79,"y":57},{"p":"b","c":"0L","x":-5.29,"y":49},{"p":"b","c":"0L","x":-4.68,"y":40},{"p":"b","c":"0L","x":-4.12,"y":34},{"p":"b","c":"0L","x":-3.56,"y":27},{"p":"b","c":"0L","x":-2.86,"y":22},{"p":"b","c":"0L","x":-2.17,"y":19},{"p":"b","c":"0L","x":-1.44,"y":17},{"p":"b","c":"0L","x":-0.5,"y":17},{"p":"b","c":"0L","x":-0.19,"y":18},{"p":"b","c":"0L","x":0.06,"y":20},{"p":"b","c":"0L","x":0.31,"y":27},{"p":"b","c":"0L","x":0.62,"y":34},{"p":"b","c":"0L","x":1.14,"y":37},{"p":"b","c":"0L","x":1.73,"y":40},{"p":"b","c":"0L","x":2.23,"y":43},{"p":"b","c":"0L","x":2.84,"y":47},{"p":"b","c":"0L","x":3.4,"y":52},{"p":"b","c":"0L","x":3.96,"y":57},{"p":"b","c":"0L","x":4.32,"y":60},{"p":"b","c":"0L","x":4.79,"y":64},{"p":"b","c":"0L","x":5.32,"y":64},{"p":"b","c":"0L","x":5.74,"y":65},{"p":"b","c":"0L","x":6.18,"y":65},{"p":"b","c":"0L","x":6.65,"y":67},{"p":"b","c":"0L","x":7.16,"y":66},{"p":"b","c":"0L","x":7.85,"y":67},{"p":"b","c":"0L","x":8.32,"y":69},{"p":"b","c":"0L","x":8.91,"y":70},{"p":"b","c":"0L","x":9.52,"y":70},{"p":"b","c":"0L","x":9.99,"y":73},{"p":"b","c":"0L","x":10.49,"y":73},{"p":"b","c":"0L","x":11.0,"y":76},{"p":"b","c":"0L","x":11.5,"y":75},{"p":"b","c":"0L","x":12.02,"y":75},
{"p":"c","c":"355L","x":-13.08,"y":359},{"p":"c","c":"355L","x":-12.67,"y":352},{"p":"c","c":"355L","x":-12.25,"y":347},{"p":"c","c":"355L","x":-11.56,"y":342},{"p":"c","c":"355L","x":-10.86,"y":339},{"p":"c","c":"355L","x":-10.5,"y":343},{"p":"c","c":"355L","x":-10.02,"y":349},{"p":"c","c":"355L","x":-9.74,"y":345},{"p":"c","c":"355L","x":-9.33,"y":337},{"p":"c","c":"355L","x":-8.91,"y":334},{"p":"c","c":"355L","x":-8.49,"y":332},{"p":"c","c":"355L","x":-8.16,"y":327},{"p":"c","c":"355L","x":-7.8,"y":322},{"p":"c","c":"355L","x":-7.41,"y":323},{"p":"c","c":"355L","x":-6.96,"y":324},{"p":"c","c":"355L","x":-6.57,"y":323},{"p":"c","c":"355L","x":-6.26,"y":320},{"p":"c","c":"355L","x":-5.9,"y":318},{"p":"c","c":"355L","x":-5.43,"y":315},{"p":"c","c":"355L","x":-5.07,"y":316},{"p":"c","c":"355L","x":-4.59,"y":318},{"p":"c","c":"355L","x":-4.23,"y":316},{"p":"c","c":"355L","x":-3.9,"y":314},{"p":"c","c":"355L","x":-3.57,"y":310},{"p":"c","c":"355L","x":-3.21,"y":307},{"p":"c","c":"355L","x":-2.81,"y":304},{"p":"c","c":"355L","x":-2.37,"y":302},{"p":"c","c":"355L","x":-1.81,"y":301},{"p":"c","c":"355L","x":-0.98,"y":301},{"p":"c","c":"355L","x":0,"y":301},{"p":"c","c":"355L","x":0.69,"y":301},{"p":"c","c":"355L","x":1.53,"y":302},{"p":"c","c":"355L","x":2.2,"y":304},{"p":"c","c":"355L","x":2.92,"y":307},{"p":"c","c":"355L","x":3.45,"y":312},{"p":"c","c":"355L","x":4.03,"y":317},{"p":"c","c":"355L","x":4.53,"y":324},{"p":"c","c":"355L","x":5.14,"y":330},{"p":"c","c":"355L","x":5.7,"y":337},{"p":"c","c":"355L","x":6.26,"y":342},{"p":"c","c":"355L","x":6.71,"y":344},{"p":"c","c":"355L","x":7.04,"y":346},{"p":"c","c":"355L","x":7.37,"y":347},{"p":"c","c":"355L","x":7.71,"y":346},{"p":"c","c":"355L","x":8.04,"y":348},{"p":"c","c":"355L","x":8.48,"y":349},{"p":"c","c":"355L","x":8.79,"y":349},{"p":"c","c":"355L","x":9.13,"y":351},{"p":"c","c":"355L","x":9.6,"y":352},{"p":"c","c":"355L","x":9.96,"y":352},{"p":"c","c":"355L","x":10.3,"y":355},{"p":"c","c":"355L","x":10.71,"y":357},{"p":"c","c":"355L","x":11.05,"y":357},{"p":"c","c":"355L","x":11.38,"y":360},{"p":"c","c":"355L","x":11.63,"y":360},
{"p":"c","c":"195L","x":-13.08,"y":325},{"p":"c","c":"195L","x":-12.67,"y":320},{"p":"c","c":"195L","x":-11.97,"y":314},{"p":"c","c":"195L","x":-11.41,"y":311},{"p":"c","c":"195L","x":-10.86,"y":309},{"p":"c","c":"195L","x":-10.41,"y":313},{"p":"c","c":"195L","x":-9.89,"y":318},{"p":"c","c":"195L","x":-9.58,"y":313},{"p":"c","c":"195L","x":-9.19,"y":307},{"p":"c","c":"195L","x":-8.66,"y":301},{"p":"c","c":"195L","x":-8.07,"y":294},{"p":"c","c":"195L","x":-7.66,"y":291},{"p":"c","c":"195L","x":-7.1,"y":289},{"p":"c","c":"195L","x":-6.65,"y":288},{"p":"c","c":"195L","x":-6.13,"y":287},{"p":"c","c":"195L","x":-5.57,"y":284},{"p":"c","c":"195L","x":-5.01,"y":282},{"p":"c","c":"195L","x":-4.48,"y":280},{"p":"c","c":"195L","x":-3.9,"y":277},{"p":"c","c":"195L","x":-3.4,"y":275},{"p":"c","c":"195L","x":-2.79,"y":272},{"p":"c","c":"195L","x":-2.23,"y":269},{"p":"c","c":"195L","x":-1.67,"y":268},{"p":"c","c":"195L","x":-0.98,"y":267},{"p":"c","c":"195L","x":0,"y":267},{"p":"c","c":"195L","x":0.69,"y":267},{"p":"c","c":"195L","x":1.67,"y":269},{"p":"c","c":"195L","x":2.2,"y":270},{"p":"c","c":"195L","x":2.78,"y":274},{"p":"c","c":"195L","x":3.28,"y":279},{"p":"c","c":"195L","x":3.89,"y":287},{"p":"c","c":"195L","x":4.28,"y":295},{"p":"c","c":"195L","x":4.73,"y":304},{"p":"c","c":"195L","x":5.04,"y":309},{"p":"c","c":"195L","x":5.29,"y":310},{"p":"c","c":"195L","x":5.62,"y":308},{"p":"c","c":"195L","x":5.87,"y":306},{"p":"c","c":"195L","x":6.12,"y":307},{"p":"c","c":"195L","x":6.46,"y":305},{"p":"c","c":"195L","x":6.79,"y":308},{"p":"c","c":"195L","x":7.23,"y":309},{"p":"c","c":"195L","x":7.62,"y":310},{"p":"c","c":"195L","x":7.96,"y":312},{"p":"c","c":"195L","x":8.35,"y":314},{"p":"c","c":"195L","x":8.71,"y":313},{"p":"c","c":"195L","x":9.13,"y":316},{"p":"c","c":"195L","x":9.54,"y":317},{"p":"c","c":"195L","x":10.02,"y":320},{"p":"c","c":"195L","x":10.38,"y":321},{"p":"c","c":"195L","x":10.71,"y":323},{"p":"c","c":"195L","x":11.05,"y":325},{"p":"c","c":"195L","x":11.38,"y":326},{"p":"c","c":"195L","x":11.63,"y":329},
{"p":"c","c":"115L","x":-13.08,"y":312},{"p":"c","c":"115L","x":-12.67,"y":304},{"p":"c","c":"115L","x":-12.25,"y":297},{"p":"c","c":"115L","x":-11.83,"y":293},{"p":"c","c":"115L","x":-11.41,"y":290},{"p":"c","c":"115L","x":-10.72,"y":289},{"p":"c","c":"115L","x":-10.41,"y":294},{"p":"c","c":"115L","x":-10.02,"y":299},{"p":"c","c":"115L","x":-9.66,"y":295},{"p":"c","c":"115L","x":-9.19,"y":290},{"p":"c","c":"115L","x":-8.83,"y":284},{"p":"c","c":"115L","x":-8.35,"y":277},{"p":"c","c":"115L","x":-7.82,"y":273},{"p":"c","c":"115L","x":-7.24,"y":270},{"p":"c","c":"115L","x":-6.74,"y":270},{"p":"c","c":"115L","x":-6.13,"y":269},{"p":"c","c":"115L","x":-5.57,"y":265},{"p":"c","c":"115L","x":-5.01,"y":262},{"p":"c","c":"115L","x":-4.48,"y":258},{"p":"c","c":"115L","x":-3.9,"y":254},{"p":"c","c":"115L","x":-3.4,"y":248},{"p":"c","c":"115L","x":-2.79,"y":242},{"p":"c","c":"115L","x":-2.23,"y":238},{"p":"c","c":"115L","x":-1.67,"y":235},{"p":"c","c":"115L","x":-0.89,"y":235},{"p":"c","c":"115L","x":0,"y":234},{"p":"c","c":"115L","x":0.69,"y":235},{"p":"c","c":"115L","x":1.39,"y":235},{"p":"c","c":"115L","x":1.95,"y":238},{"p":"c","c":"115L","x":2.36,"y":241},{"p":"c","c":"115L","x":2.78,"y":244},{"p":"c","c":"115L","x":3.2,"y":250},{"p":"c","c":"115L","x":3.53,"y":257},{"p":"c","c":"115L","x":3.89,"y":264},{"p":"c","c":"115L","x":4.28,"y":272},{"p":"c","c":"115L","x":4.73,"y":280},{"p":"c","c":"115L","x":4.95,"y":280},{"p":"c","c":"115L","x":5.29,"y":277},{"p":"c","c":"115L","x":5.62,"y":276},{"p":"c","c":"115L","x":6.12,"y":274},{"p":"c","c":"115L","x":6.54,"y":276},{"p":"c","c":"115L","x":6.96,"y":275},{"p":"c","c":"115L","x":7.37,"y":278},{"p":"c","c":"115L","x":7.79,"y":277},{"p":"c","c":"115L","x":8.21,"y":280},{"p":"c","c":"115L","x":8.63,"y":281},{"p":"c","c":"115L","x":9.04,"y":283},{"p":"c","c":"115L","x":9.46,"y":284},{"p":"c","c":"115L","x":9.88,"y":287},{"p":"c","c":"115L","x":10.3,"y":288},{"p":"c","c":"115L","x":10.71,"y":292},{"p":"c","c":"115L","x":11.13,"y":294},{"p":"c","c":"115L","x":11.63,"y":297},
{"p":"c","c":"75L","x":-13.08,"y":292},{"p":"c","c":"75L","x":-12.67,"y":285},{"p":"c","c":"75L","x":-12.25,"y":277},{"p":"c","c":"75L","x":-11.75,"y":272},{"p":"c","c":"75L","x":-11.14,"y":269},{"p":"c","c":"75L","x":-10.58,"y":266},{"p":"c","c":"75L","x":-10.16,"y":268},{"p":"c","c":"75L","x":-9.83,"y":269},{"p":"c","c":"75L","x":-9.33,"y":260},{"p":"c","c":"75L","x":-8.91,"y":256},{"p":"c","c":"75L","x":-8.35,"y":250},{"p":"c","c":"75L","x":-7.82,"y":246},{"p":"c","c":"75L","x":-7.24,"y":244},{"p":"c","c":"75L","x":-6.57,"y":239},{"p":"c","c":"75L","x":-5.85,"y":234},{"p":"c","c":"75L","x":-5.32,"y":227},{"p":"c","c":"75L","x":-4.59,"y":214},{"p":"c","c":"75L","x":-3.9,"y":207},{"p":"c","c":"75L","x":-3.21,"y":200},{"p":"c","c":"75L","x":-2.65,"y":197},{"p":"c","c":"75L","x":-2.09,"y":194},{"p":"c","c":"75L","x":-1.39,"y":192},{"p":"c","c":"75L","x":-0.81,"y":191},{"p":"c","c":"75L","x":0,"y":192},{"p":"c","c":"75L","x":0.69,"y":192},{"p":"c","c":"75L","x":1.53,"y":195},{"p":"c","c":"75L","x":2.03,"y":199},{"p":"c","c":"75L","x":2.45,"y":204},{"p":"c","c":"75L","x":2.92,"y":210},{"p":"c","c":"75L","x":3.37,"y":217},{"p":"c","c":"75L","x":3.7,"y":224},{"p":"c","c":"75L","x":4.03,"y":230},{"p":"c","c":"75L","x":4.45,"y":236},{"p":"c","c":"75L","x":4.87,"y":239},{"p":"c","c":"75L","x":5.29,"y":235},{"p":"c","c":"75L","x":5.7,"y":232},{"p":"c","c":"75L","x":6.12,"y":230},{"p":"c","c":"75L","x":6.46,"y":228},{"p":"c","c":"75L","x":6.81,"y":227},{"p":"c","c":"75L","x":7.21,"y":230},{"p":"c","c":"75L","x":7.54,"y":229},{"p":"c","c":"75L","x":7.93,"y":232},{"p":"c","c":"75L","x":8.29,"y":233},{"p":"c","c":"75L","x":8.71,"y":235},{"p":"c","c":"75L","x":9.04,"y":234},{"p":"c","c":"75L","x":9.32,"y":235},{"p":"c","c":"75L","x":9.71,"y":238},{"p":"c","c":"75L","x":10.05,"y":239},{"p":"c","c":"75L","x":10.38,"y":242},{"p":"c","c":"75L","x":10.71,"y":243},{"p":"c","c":"75L","x":11.13,"y":245},{"p":"c","c":"75L","x":11.63,"y":247},
{"p":"c","c":"35L","x":-13.08,"y":225},{"p":"c","c":"35L","x":-12.67,"y":219},{"p":"c","c":"35L","x":-12.25,"y":213},{"p":"c","c":"35L","x":-11.83,"y":210},{"p":"c","c":"35L","x":-11.41,"y":210},{"p":"c","c":"35L","x":-11.0,"y":214},{"p":"c","c":"35L","x":-10.5,"y":219},{"p":"c","c":"35L","x":-10.16,"y":224},{"p":"c","c":"35L","x":-9.74,"y":220},{"p":"c","c":"35L","x":-9.33,"y":216},{"p":"c","c":"35L","x":-8.83,"y":213},{"p":"c","c":"35L","x":-8.32,"y":208},{"p":"c","c":"35L","x":-7.74,"y":203},{"p":"c","c":"35L","x":-7.1,"y":197},{"p":"c","c":"35L","x":-6.57,"y":193},{"p":"c","c":"35L","x":-5.99,"y":188},{"p":"c","c":"35L","x":-5.15,"y":180},{"p":"c","c":"35L","x":-4.48,"y":174},{"p":"c","c":"35L","x":-3.9,"y":168},{"p":"c","c":"35L","x":-3.21,"y":164},{"p":"c","c":"35L","x":-2.51,"y":160},{"p":"c","c":"35L","x":-1.81,"y":159},{"p":"c","c":"35L","x":-0.98,"y":158},{"p":"c","c":"35L","x":0,"y":158},{"p":"c","c":"35L","x":0.69,"y":158},{"p":"c","c":"35L","x":1.25,"y":160},{"p":"c","c":"35L","x":1.7,"y":162},{"p":"c","c":"35L","x":2.2,"y":166},{"p":"c","c":"35L","x":2.64,"y":174},{"p":"c","c":"35L","x":3.03,"y":181},{"p":"c","c":"35L","x":3.37,"y":189},{"p":"c","c":"35L","x":3.76,"y":197},{"p":"c","c":"35L","x":4.12,"y":204},{"p":"c","c":"35L","x":4.59,"y":209},{"p":"c","c":"35L","x":4.95,"y":208},{"p":"c","c":"35L","x":5.29,"y":207},{"p":"c","c":"35L","x":5.7,"y":207},{"p":"c","c":"35L","x":6.04,"y":205},{"p":"c","c":"35L","x":6.37,"y":203},{"p":"c","c":"35L","x":6.81,"y":204},{"p":"c","c":"35L","x":7.21,"y":206},{"p":"c","c":"35L","x":7.54,"y":205},{"p":"c","c":"35L","x":7.96,"y":208},{"p":"c","c":"35L","x":8.48,"y":209},{"p":"c","c":"35L","x":8.88,"y":211},{"p":"c","c":"35L","x":9.29,"y":212},{"p":"c","c":"35L","x":9.74,"y":214},{"p":"c","c":"35L","x":10.13,"y":216},{"p":"c","c":"35L","x":10.55,"y":218},{"p":"c","c":"35L","x":10.96,"y":220},{"p":"c","c":"35L","x":11.3,"y":222},{"p":"c","c":"35L","x":11.63,"y":224},
{"p":"c","c":"5L","x":-13.08,"y":194},{"p":"c","c":"5L","x":-12.67,"y":188},{"p":"c","c":"5L","x":-12.25,"y":183},{"p":"c","c":"5L","x":-11.83,"y":180},{"p":"c","c":"5L","x":-11.33,"y":182},{"p":"c","c":"5L","x":-10.83,"y":186},{"p":"c","c":"5L","x":-10.16,"y":189},{"p":"c","c":"5L","x":-9.74,"y":186},{"p":"c","c":"5L","x":-9.33,"y":184},{"p":"c","c":"5L","x":-8.77,"y":180},{"p":"c","c":"5L","x":-8.24,"y":177},{"p":"c","c":"5L","x":-7.74,"y":174},{"p":"c","c":"5L","x":-7.1,"y":170},{"p":"c","c":"5L","x":-6.57,"y":164},{"p":"c","c":"5L","x":-5.99,"y":157},{"p":"c","c":"5L","x":-5.32,"y":149},{"p":"c","c":"5L","x":-4.59,"y":140},{"p":"c","c":"5L","x":-3.9,"y":132},{"p":"c","c":"5L","x":-3.21,"y":124},{"p":"c","c":"5L","x":-2.37,"y":114},{"p":"c","c":"5L","x":-1.81,"y":112},{"p":"c","c":"5L","x":-0.98,"y":112},{"p":"c","c":"5L","x":-0.31,"y":111},{"p":"c","c":"5L","x":0,"y":111},{"p":"c","c":"5L","x":0.36,"y":114},{"p":"c","c":"5L","x":0.69,"y":114},{"p":"c","c":"5L","x":1.25,"y":115},{"p":"c","c":"5L","x":1.78,"y":119},{"p":"c","c":"5L","x":2.36,"y":123},{"p":"c","c":"5L","x":2.92,"y":127},{"p":"c","c":"5L","x":3.45,"y":137},{"p":"c","c":"5L","x":4.03,"y":147},{"p":"c","c":"5L","x":4.53,"y":152},{"p":"c","c":"5L","x":5.14,"y":154},{"p":"c","c":"5L","x":5.53,"y":155},{"p":"c","c":"5L","x":5.95,"y":154},{"p":"c","c":"5L","x":6.37,"y":157},{"p":"c","c":"5L","x":6.81,"y":157},{"p":"c","c":"5L","x":7.21,"y":159},{"p":"c","c":"5L","x":7.62,"y":158},{"p":"c","c":"5L","x":8.04,"y":161},{"p":"c","c":"5L","x":8.46,"y":161},{"p":"c","c":"5L","x":9.04,"y":164},{"p":"c","c":"5L","x":9.46,"y":163},{"p":"c","c":"5L","x":9.88,"y":166},{"p":"c","c":"5L","x":10.3,"y":166},{"p":"c","c":"5L","x":10.71,"y":167},{"p":"c","c":"5L","x":11.13,"y":167},{"p":"c","c":"5L","x":11.63,"y":168},
{"p":"c","c":"0L","x":-13.08,"y":119},{"p":"c","c":"0L","x":-12.67,"y":112},{"p":"c","c":"0L","x":-12.17,"y":106},{"p":"c","c":"0L","x":-11.56,"y":102},{"p":"c","c":"0L","x":-11.0,"y":105},{"p":"c","c":"0L","x":-10.41,"y":109},{"p":"c","c":"0L","x":-9.83,"y":112},{"p":"c","c":"0L","x":-9.33,"y":112},{"p":"c","c":"0L","x":-8.83,"y":112},{"p":"c","c":"0L","x":-8.22,"y":110},{"p":"c","c":"0L","x":-7.66,"y":106},{"p":"c","c":"0L","x":-7.1,"y":100},{"p":"c","c":"0L","x":-6.57,"y":94},{"p":"c","c":"0L","x":-5.99,"y":87},{"p":"c","c":"0L","x":-5.4,"y":80},{"p":"c","c":"0L","x":-4.88,"y":74},{"p":"c","c":"0L","x":-4.32,"y":68},{"p":"c","c":"0L","x":-3.76,"y":62},{"p":"c","c":"0L","x":-3.23,"y":58},{"p":"c","c":"0L","x":-2.65,"y":55},{"p":"c","c":"0L","x":-2.06,"y":53},{"p":"c","c":"0L","x":-1.54,"y":51},{"p":"c","c":"0L","x":-0.98,"y":50},{"p":"c","c":"0L","x":-0.48,"y":49},{"p":"c","c":"0L","x":-0.14,"y":50},{"p":"c","c":"0L","x":0.11,"y":55},{"p":"c","c":"0L","x":0.42,"y":67},{"p":"c","c":"0L","x":0.78,"y":72},{"p":"c","c":"0L","x":1.25,"y":75},{"p":"c","c":"0L","x":1.78,"y":79},{"p":"c","c":"0L","x":2.36,"y":84},{"p":"c","c":"0L","x":2.86,"y":87},{"p":"c","c":"0L","x":3.2,"y":89},{"p":"c","c":"0L","x":3.47,"y":92},{"p":"c","c":"0L","x":3.7,"y":99},{"p":"c","c":"0L","x":4.03,"y":107},{"p":"c","c":"0L","x":4.31,"y":110},{"p":"c","c":"0L","x":4.7,"y":116},{"p":"c","c":"0L","x":5.14,"y":120},{"p":"c","c":"0L","x":5.53,"y":123},{"p":"c","c":"0L","x":5.87,"y":126},{"p":"c","c":"0L","x":6.26,"y":127},{"p":"c","c":"0L","x":6.54,"y":130},{"p":"c","c":"0L","x":6.79,"y":126},{"p":"c","c":"0L","x":7.04,"y":130},{"p":"c","c":"0L","x":7.37,"y":129},{"p":"c","c":"0L","x":7.79,"y":131},{"p":"c","c":"0L","x":8.21,"y":130},{"p":"c","c":"0L","x":8.77,"y":132},{"p":"c","c":"0L","x":9.13,"y":134},{"p":"c","c":"0L","x":9.54,"y":133},{"p":"c","c":"0L","x":10.15,"y":135},{"p":"c","c":"0L","x":10.55,"y":135},{"p":"c","c":"0L","x":10.96,"y":137},{"p":"c","c":"0L","x":11.63,"y":137}
 ]
},
"hconcat": [
 {
  "width": 303, "height": 442,
  "resolve": {"axis": {"x": "independent", "y": "independent"}},
  "layer": [
   {"data": {"name": "letters"}, "transform": [{"filter": "datum.p === 'a'"}],
    "mark": {"type": "rule", "color": "black", "strokeWidth": 1, "strokeDash": [7, 4]},
    "encoding": {"x": {"datum": 0, "type": "quantitative", "scale": {"domain": [-11.9, 13.4], "nice": false, "zero": false}, "axis": null}}},
   {"data": {"name": "bars"}, "transform": [{"filter": "datum.p === 'a'"}],
    "mark": {"type": "rule", "color": "black", "strokeWidth": 1.3},
    "encoding": {
     "x": {"field": "x", "type": "quantitative", "scale": {"domain": [-11.9, 13.4], "nice": false, "zero": false},
       "axis": {"orient": "top", "values": [-10, -7.5, -5, -2.5, 0, 2.5, 5, 7.5, 10, 12.5], "labels": false, "tickSize": -8, "title": null}},
     "y": {"field": "y", "type": "quantitative", "scale": {"domain": [0, 442], "nice": false, "zero": false}, "axis": null},
     "y2": {"field": "y2"}}},
   {"data": {"name": "letters"}, "transform": [{"filter": "datum.p === 'a'"}],
    "mark": {"type": "text", "font": "Liberation Sans", "fontSize": 28, "fontWeight": "bold", "align": "left", "baseline": "alphabetic", "color": "black"},
    "encoding": {
     "x": {"field": "x", "type": "quantitative", "scale": {"domain": [-11.9, 13.4], "nice": false, "zero": false},
       "axis": {"orient": "top", "values": [-11.25, -8.75, -6.25, -3.75, -1.25, 1.25, 3.75, 6.25, 8.75, 11.25], "labels": false, "tickSize": -5, "title": null, "domain": false}},
     "y": {"field": "y", "type": "quantitative", "scale": {"domain": [0, 442], "nice": false, "zero": false}, "axis": null},
     "text": {"field": "t"}}},
   {"data": {"name": "labels"}, "transform": [{"filter": "datum.p === 'a'"}],
    "mark": {"type": "text", "font": "Liberation Sans", "fontSize": 20, "align": "center", "baseline": "alphabetic", "color": "#111"},
    "encoding": {
     "x": {"field": "x", "type": "quantitative", "scale": {"domain": [-11.9, 13.4], "nice": false, "zero": false},
       "axis": {"orient": "bottom", "values": [-11.25, -8.75, -6.25, -3.75, -1.25, 1.25, 3.75, 6.25, 8.75, 11.25], "labels": false, "tickSize": -5, "title": null, "domain": false}},
     "y": {"field": "y", "type": "quantitative", "scale": {"domain": [0, 442], "nice": false, "zero": false}, "axis": null},
     "text": {"field": "t"}}},
   {"data": {"name": "curves"}, "transform": [{"filter": "datum.p === 'a'"}],
    "mark": {"type": "line", "color": "black", "strokeWidth": 1.9, "clip": true},
    "encoding": {
     "x": {"field": "x", "type": "quantitative", "scale": {"domain": [-11.9, 13.4], "nice": false, "zero": false},
       "axis": {"orient": "bottom", "values": [-10, -7.5, -5, -2.5, 0, 2.5, 5, 7.5, 10, 12.5], "tickSize": -8, "title": null,
         "labelExpr": "datum.value % 5 === 0 ? replace(format(datum.value, '.1f'), '\u2212', '-') : ''"}},
     "y": {"field": "y", "type": "quantitative", "scale": {"domain": [0, 442], "nice": false, "zero": false},
       "axis": {"title": "Intensity (arb. units)", "labels": false, "ticks": false, "domain": true, "minExtent": 0, "titlePadding": 16, "titleFontSize": 24, "titleY": 230}},
     "detail": {"field": "c"}}}
  ]
 },
 {
  "width": 302, "height": 442,
  "resolve": {"axis": {"x": "independent", "y": "independent"}},
  "layer": [
   {"data": {"name": "letters"}, "transform": [{"filter": "datum.p === 'b'"}],
    "mark": {"type": "rule", "color": "black", "strokeWidth": 1, "strokeDash": [7, 4]},
    "encoding": {"x": {"datum": 0, "type": "quantitative", "scale": {"domain": [-13.1, 12.1], "nice": false, "zero": false}, "axis": null}}},
   {"data": {"name": "bars"}, "transform": [{"filter": "datum.p === 'b'"}],
    "mark": {"type": "rule", "color": "black", "strokeWidth": 1.3},
    "encoding": {
     "x": {"field": "x", "type": "quantitative", "scale": {"domain": [-13.1, 12.1], "nice": false, "zero": false},
       "axis": {"orient": "top", "values": [-12.5, -10, -7.5, -5, -2.5, 0, 2.5, 5, 7.5, 10], "labels": false, "tickSize": -8, "title": null}},
     "y": {"field": "y", "type": "quantitative", "scale": {"domain": [0, 442], "nice": false, "zero": false}, "axis": null},
     "y2": {"field": "y2"}}},
   {"data": {"name": "letters"}, "transform": [{"filter": "datum.p === 'b'"}],
    "mark": {"type": "text", "font": "Liberation Sans", "fontSize": 28, "fontWeight": "bold", "align": "left", "baseline": "alphabetic", "color": "black"},
    "encoding": {
     "x": {"field": "x", "type": "quantitative", "scale": {"domain": [-13.1, 12.1], "nice": false, "zero": false},
       "axis": {"orient": "top", "values": [-11.25, -8.75, -6.25, -3.75, -1.25, 1.25, 3.75, 6.25, 8.75, 11.25], "labels": false, "tickSize": -5, "title": null, "domain": false}},
     "y": {"field": "y", "type": "quantitative", "scale": {"domain": [0, 442], "nice": false, "zero": false}, "axis": null},
     "text": {"field": "t"}}},
   {"data": {"name": "labels"}, "transform": [{"filter": "datum.p === 'b'"}],
    "mark": {"type": "text", "font": "Liberation Sans", "fontSize": 20, "align": "center", "baseline": "alphabetic", "color": "#111"},
    "encoding": {
     "x": {"field": "x", "type": "quantitative", "scale": {"domain": [-13.1, 12.1], "nice": false, "zero": false},
       "axis": {"orient": "bottom", "values": [-11.25, -8.75, -6.25, -3.75, -1.25, 1.25, 3.75, 6.25, 8.75, 11.25], "labels": false, "tickSize": -5, "title": null, "domain": false}},
     "y": {"field": "y", "type": "quantitative", "scale": {"domain": [0, 442], "nice": false, "zero": false}, "axis": null},
     "text": {"field": "t"}}},
   {"data": {"name": "curves"}, "transform": [{"filter": "datum.p === 'b'"}],
    "mark": {"type": "line", "color": "black", "strokeWidth": 1.9, "clip": true},
    "encoding": {
     "x": {"field": "x", "type": "quantitative", "scale": {"domain": [-13.1, 12.1], "nice": false, "zero": false},
       "axis": {"orient": "bottom", "values": [-12.5, -10, -7.5, -5, -2.5, 0, 2.5, 5, 7.5, 10], "tickSize": -8,
         "title": "Binding Energy (eV)", "titleFontSize": 25, "titlePadding": 6, "titleX": 158,
         "labelExpr": "datum.value % 5 === 0 ? replace(format(datum.value, '.1f'), '\u2212', '-') : ''"}},
     "y": {"field": "y", "type": "quantitative", "scale": {"domain": [0, 442], "nice": false, "zero": false}, "axis": null},
     "detail": {"field": "c"}}}
  ]
 },
 {
  "width": 302, "height": 442,
  "resolve": {"axis": {"x": "independent", "y": "independent"}},
  "layer": [
   {"data": {"name": "letters"}, "transform": [{"filter": "datum.p === 'c'"}],
    "mark": {"type": "rule", "color": "black", "strokeWidth": 1, "strokeDash": [7, 4]},
    "encoding": {"x": {"datum": 0, "type": "quantitative", "scale": {"domain": [-13.5, 11.7], "nice": false, "zero": false}, "axis": null}}},
   {"data": {"name": "bars"}, "transform": [{"filter": "datum.p === 'c'"}],
    "mark": {"type": "rule", "color": "black", "strokeWidth": 1.3},
    "encoding": {
     "x": {"field": "x", "type": "quantitative", "scale": {"domain": [-13.5, 11.7], "nice": false, "zero": false},
       "axis": {"orient": "top", "values": [-12.5, -10, -7.5, -5, -2.5, 0, 2.5, 5, 7.5, 10], "labels": false, "tickSize": -8, "title": null}},
     "y": {"field": "y", "type": "quantitative", "scale": {"domain": [0, 442], "nice": false, "zero": false}, "axis": null},
     "y2": {"field": "y2"}}},
   {"data": {"name": "letters"}, "transform": [{"filter": "datum.p === 'c'"}],
    "mark": {"type": "text", "font": "Liberation Sans", "fontSize": 28, "fontWeight": "bold", "align": "left", "baseline": "alphabetic", "color": "black"},
    "encoding": {
     "x": {"field": "x", "type": "quantitative", "scale": {"domain": [-13.5, 11.7], "nice": false, "zero": false},
       "axis": {"orient": "top", "values": [-11.25, -8.75, -6.25, -3.75, -1.25, 1.25, 3.75, 6.25, 8.75, 11.25], "labels": false, "tickSize": -5, "title": null, "domain": false}},
     "y": {"field": "y", "type": "quantitative", "scale": {"domain": [0, 442], "nice": false, "zero": false}, "axis": null},
     "text": {"field": "t"}}},
   {"data": {"name": "labels"}, "transform": [{"filter": "datum.p === 'c'"}],
    "mark": {"type": "text", "font": "Liberation Sans", "fontSize": 20, "align": "center", "baseline": "alphabetic", "color": "#111"},
    "encoding": {
     "x": {"field": "x", "type": "quantitative", "scale": {"domain": [-13.5, 11.7], "nice": false, "zero": false},
       "axis": {"orient": "bottom", "values": [-11.25, -8.75, -6.25, -3.75, -1.25, 1.25, 3.75, 6.25, 8.75, 11.25], "labels": false, "tickSize": -5, "title": null, "domain": false}},
     "y": {"field": "y", "type": "quantitative", "scale": {"domain": [0, 442], "nice": false, "zero": false}, "axis": null},
     "text": {"field": "t"}}},
   {"data": {"name": "curves"}, "transform": [{"filter": "datum.p === 'c'"}],
    "mark": {"type": "line", "color": "black", "strokeWidth": 1.9, "clip": true},
    "encoding": {
     "x": {"field": "x", "type": "quantitative", "scale": {"domain": [-13.5, 11.7], "nice": false, "zero": false},
       "axis": {"orient": "bottom", "values": [-12.5, -10, -7.5, -5, -2.5, 0, 2.5, 5, 7.5, 10], "tickSize": -8, "title": null,
         "labelExpr": "datum.value % 5 === 0 ? replace(format(datum.value, '.1f'), '\u2212', '-') : ''"}},
     "y": {"field": "y", "type": "quantitative", "scale": {"domain": [0, 442], "nice": false, "zero": false}, "axis": null},
     "detail": {"field": "c"}}}
  ]
 }
]
}
